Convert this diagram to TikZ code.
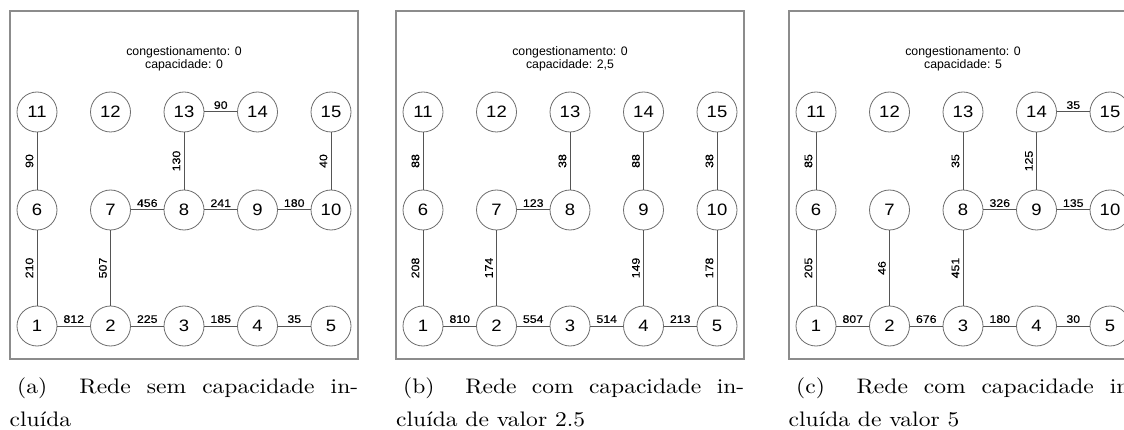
\documentclass[tikz,border=0pt]{standalone}
\usepackage{fontspec}
\newfontfamily\sansf{Liberation Sans}
\newfontfamily\sansnum{Liberation Sans}[FakeStretch=1.12]
\newfontfamily\sanslab{Liberation Sans}[FakeStretch=1.12, FakeBold=0.4]
\newfontfamily\capfont{lmroman10-regular}[Extension=.otf, FakeStretch=1.12]
\definecolor{framegray}{HTML}{8C8C8C}
\definecolor{ringgray}{HTML}{6E6E6E}
\definecolor{linegray}{HTML}{555555}
\tikzset{
  frame/.style={draw=framegray, line width=1.1pt},
  vtx/.style={circle, draw=ringgray, line width=0.8pt, minimum size=40pt, inner sep=0pt, fill=white,
              font=\sansnum\fontsize{16.5}{16.5}\selectfont},
  header/.style={align=center, font=\sansf\fontsize{12.3}{13.5}\selectfont},
  edge/.style={draw=linegray, line width=1pt},
  hlab/.style={above, inner sep=2.5pt, font=\sanslab\fontsize{11}{12}\selectfont},
  vlab/.style={rotate=90, anchor=south, inner sep=3.2pt, font=\sanslab\fontsize{11}{12}\selectfont},
  captext/.style={anchor=base west, inner sep=0pt, font=\capfont\fontsize{21}{26}\selectfont},
}
% one network panel: #1 left edge of the frame, #2 node name prefix, #3 capacity value
\newcommand\netpanel[3]{%
  \begin{scope}[shift={(#1,0)}]
    \draw[frame] (0,11) rectangle (348,359);
    \node[header] (#2-head) at (174,59) {congestionamento: 0\\capacidade: #3};
    \foreach \c in {0,...,4} {
      \pgfmathtruncatemacro\ia{\c+1}
      \pgfmathtruncatemacro\ib{\c+6}
      \pgfmathtruncatemacro\ic{\c+11}
      \node[vtx] (#2-\ia) at ({27+73.5*\c},326) {\ia};
      \node[vtx] (#2-\ib) at ({27+73.5*\c},210) {\ib};
      \node[vtx] (#2-\ic) at ({27+73.5*\c},112) {\ic};
    }
  \end{scope}}
\begin{document}
\begin{tikzpicture}[x=1pt,y=-1pt]
  \useasboundingbox (0,0) rectangle (1124,430);
  \clip (0,0) rectangle (1124,430);

  % (a) network without capacity
  \netpanel{10}{a}{0}
  \draw[edge] (a-11) -- node[vlab]{90} (a-6);
  \draw[edge] (a-13) -- node[vlab]{130} (a-8);
  \draw[edge] (a-15) -- node[vlab]{40} (a-10);
  \draw[edge] (a-13) -- node[hlab]{90} (a-14);
  \draw[edge] (a-7) -- node[hlab]{456} (a-8);
  \draw[edge] (a-8) -- node[hlab]{241} (a-9);
  \draw[edge] (a-9) -- node[hlab]{180} (a-10);
  \draw[edge] (a-6) -- node[vlab]{210} (a-1);
  \draw[edge] (a-7) -- node[vlab]{507} (a-2);
  \draw[edge] (a-1) -- node[hlab]{812} (a-2);
  \draw[edge] (a-2) -- node[hlab]{225} (a-3);
  \draw[edge] (a-3) -- node[hlab]{185} (a-4);
  \draw[edge] (a-4) -- node[hlab]{35} (a-5);
  \node[captext] (a-cap1) at (17,393) {\makebox[341pt][s]{(a)\ \ Rede sem capacidade in-}};
  \node[captext] (a-cap2) at (9.5,426) {cluída};

  % (b) capacity 2.5
  \netpanel{396}{b}{2,5}
  \draw[edge] (b-11) -- node[vlab]{88} (b-6);
  \draw[edge] (b-13) -- node[vlab]{38} (b-8);
  \draw[edge] (b-14) -- node[vlab]{88} (b-9);
  \draw[edge] (b-15) -- node[vlab]{38} (b-10);
  \draw[edge] (b-7) -- node[hlab]{123} (b-8);
  \draw[edge] (b-6) -- node[vlab]{208} (b-1);
  \draw[edge] (b-7) -- node[vlab]{174} (b-2);
  \draw[edge] (b-9) -- node[vlab]{149} (b-4);
  \draw[edge] (b-10) -- node[vlab]{178} (b-5);
  \draw[edge] (b-1) -- node[hlab]{810} (b-2);
  \draw[edge] (b-2) -- node[hlab]{554} (b-3);
  \draw[edge] (b-3) -- node[hlab]{514} (b-4);
  \draw[edge] (b-4) -- node[hlab]{213} (b-5);
  \node[captext] (b-cap1) at (403,393) {\makebox[341pt][s]{(b)\ \ Rede com capacidade in-}};
  \node[captext] (b-cap2) at (396,426) {cluída de valor 2.5};

  % (c) capacity 5
  \netpanel{789}{c}{5}
  \draw[edge] (c-11) -- node[vlab]{85} (c-6);
  \draw[edge] (c-13) -- node[vlab]{35} (c-8);
  \draw[edge] (c-14) -- node[vlab]{125} (c-9);
  \draw[edge] (c-14) -- node[hlab]{35} (c-15);
  \draw[edge] (c-8) -- node[hlab]{326} (c-9);
  \draw[edge] (c-9) -- node[hlab]{135} (c-10);
  \draw[edge] (c-6) -- node[vlab]{205} (c-1);
  \draw[edge] (c-7) -- node[vlab]{46} (c-2);
  \draw[edge] (c-8) -- node[vlab]{451} (c-3);
  \draw[edge] (c-1) -- node[hlab]{807} (c-2);
  \draw[edge] (c-2) -- node[hlab]{676} (c-3);
  \draw[edge] (c-3) -- node[hlab]{180} (c-4);
  \draw[edge] (c-4) -- node[hlab]{30} (c-5);
  \node[captext] (c-cap1) at (796,393) {\makebox[341pt][s]{(c)\ \ Rede com capacidade in-}};
  \node[captext] (c-cap2) at (788.5,426) {cluída de valor 5};
\end{tikzpicture}
\end{document}
